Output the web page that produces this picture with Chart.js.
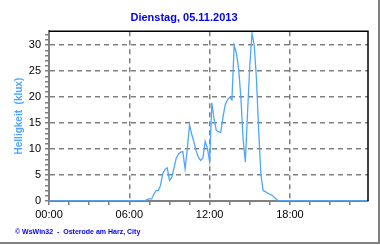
<!DOCTYPE html>
<html>
<head>
<meta charset="utf-8">
<script src="https://cdn.jsdelivr.net/npm/chart.js@4.4.1/dist/chart.umd.min.js"></script>
<style>
  html, body { margin: 0; padding: 0; background: #fff; }
  #rahmen { position: relative; width: 378px; height: 242px; border-right: 2px solid #808080; border-bottom: 2px solid #808080; }
  canvas { display: block; }
  #fuss { position: absolute; left: 15px; top: 227px; font: bold 7px 'Liberation Sans', Arial, sans-serif;
          color: #0000ff; white-space: pre; line-height: 9px; }
</style>
</head>
<body>
<div id="rahmen"><canvas id="grafik" width="378" height="242"></canvas><div id="fuss"></div></div>
<script>
// Messzeiten (Uhrzeit) und Helligkeit in klux
const zeiten = [
  "00:00",
  "07:00", "07:10", "07:20", "07:30", "07:40", "07:50",
  "08:00", "08:10", "08:20", "08:30", "08:40", "08:50",
  "09:00", "09:10", "09:20", "09:30", "09:40", "09:50",
  "10:00", "10:10", "10:20", "10:30", "10:40", "10:50",
  "11:00", "11:10", "11:20", "11:30", "11:40", "11:50",
  "12:00", "12:10", "12:20", "12:30", "12:40", "12:50",
  "13:00", "13:10", "13:20", "13:30", "13:40", "13:50",
  "14:00", "14:10", "14:20", "14:30", "14:40", "14:50",
  "15:00", "15:10", "15:20", "15:30", "15:40", "15:50",
  "16:00", "16:10", "16:20", "16:30", "16:40", "16:50",
  "17:00", "17:10",
  "23:50"
];
const helligkeit = [
  0,
  0, 0, 0.3, 0.4, 0.4, 1.3,
  2.0, 2.0, 3.0, 5.3, 6.1, 6.4,
  4.0, 4.5, 6.3, 8.2, 9.0, 9.4,
  9.5, 6.2, 10.0, 14.7, 12.8, 11.3,
  9.6, 8.4, 7.8, 8.3, 11.5, 10.2,
  7.6, 18.9, 15.8, 13.6, 13.3, 13.2,
  16.2, 18.5, 19.5, 20.0, 19.5, 30.0,
  28.5, 25.5, 20.0, 12.0, 7.5, 17.0,
  26.0, 32.3, 30.0, 23.5, 13.5, 5.0,
  2.0, 1.8, 1.5, 1.3, 1.1, 0.7,
  0.3, 0,
  0
];
const xTicks = [0, 1.5, 3, 4.5, 6, 7.5, 9, 10.5, 12, 13.5, 15, 16.5, 18, 19.5, 21, 22.5];
const yTicks = [0, 1, 2, 3, 4, 5, 6, 7, 8, 9, 10, 11, 12, 13, 14, 15, 16, 17, 18, 19, 20,
                21, 22, 23, 24, 25, 26, 27, 28, 29, 30, 31, 32];

const titel = "Dienstag, 05.11.2013";
const yTitel = "Helligkeit  (klux)";
const fusszeile = "© WsWin32  -  Osterode am Harz, City";

document.getElementById('fuss').textContent = fusszeile;

// "HH:MM" -> Stunden als Zahl
function inStunden(t) {
  const teile = t.split(":");
  return parseInt(teile[0]) + parseInt(teile[1]) / 60;
}

const punkte = zeiten.map((t, i) => ({ x: inStunden(t), y: helligkeit[i] }));

// schwarzer Rahmen oben und rechts
const rahmenPlugin = {
  id: 'rahmenPlugin',
  afterDraw(chart) {
    const a = chart.chartArea;
    const ctx = chart.ctx;
    ctx.save();
    ctx.strokeStyle = '#000';
    ctx.lineWidth = 1.5;
    ctx.beginPath();
    ctx.moveTo(a.left, a.top);
    ctx.lineTo(a.right, a.top);
    ctx.lineTo(a.right, a.bottom);
    ctx.stroke();
    ctx.restore();
  }
};

const schrift = "'Liberation Sans', Arial, sans-serif";

new Chart(document.getElementById('grafik').getContext('2d'), {
  type: 'line',
  data: {
    datasets: [{
      data: punkte,
      borderColor: '#4da6ff',
      borderWidth: 1.3,
      pointRadius: 0,
      tension: 0,
      fill: false
    }]
  },
  options: {
    responsive: false,
    animation: false,
    layout: { padding: { left: 0, right: 10, top: 0, bottom: 20 } },
    plugins: {
      legend: { display: false },
      tooltip: { enabled: false },
      title: {
        display: true,
        text: titel,
        color: '#0000ff',
        font: { family: schrift, size: 11, weight: 'bold', lineHeight: 1.2 },
        padding: { top: 11, bottom: 7 }
      }
    },
    scales: {
      x: {
        type: 'linear',
        min: 0,
        max: 23 + 50 / 60,
        afterBuildTicks: (s) => { s.ticks = xTicks.map(v => ({ value: v })); },
        afterFit: (s) => { s.height = 21; },
        ticks: {
          color: '#000',
          font: { family: schrift, size: 11 },
          padding: 3,
          maxRotation: 0,
          autoSkip: false,
          callback: (v) => (v % 6 === 0 ? String(v).padStart(2, '0') + ':00' : '')
        },
        grid: {
          color: (c) => (c.tick && c.tick.value % 6 === 0 && c.tick.value !== 0 ? '#808080' : 'rgba(0,0,0,0)'),
          lineWidth: 1.5,
          tickColor: '#808080',
          tickLength: 4
        },
        border: { display: true, color: '#808080', width: 2, dash: [5, 4] }
      },
      y: {
        type: 'linear',
        min: 0,
        max: 32.7,
        afterBuildTicks: (s) => { s.ticks = yTicks.map(v => ({ value: v })); },
        afterFit: (s) => { s.width = 49; },
        title: {
          display: true,
          text: yTitel,
          color: '#4da6ff',
          font: { family: schrift, size: 10, weight: 'bold', lineHeight: 1.2 },
          padding: { top: 13, bottom: 0 }
        },
        ticks: {
          color: '#000',
          font: { family: schrift, size: 11 },
          padding: 4,
          autoSkip: false,
          callback: (v) => (v % 5 === 0 ? String(v) : '')
        },
        grid: {
          color: (c) => (c.tick && c.tick.value % 5 === 0 && c.tick.value !== 0 ? '#808080' : 'rgba(0,0,0,0)'),
          lineWidth: 1.5,
          tickColor: '#808080',
          tickLength: 4
        },
        border: { display: true, color: '#808080', width: 2, dash: [5, 4] }
      }
    }
  },
  plugins: [rahmenPlugin]
});
</script>
</body>
</html>
